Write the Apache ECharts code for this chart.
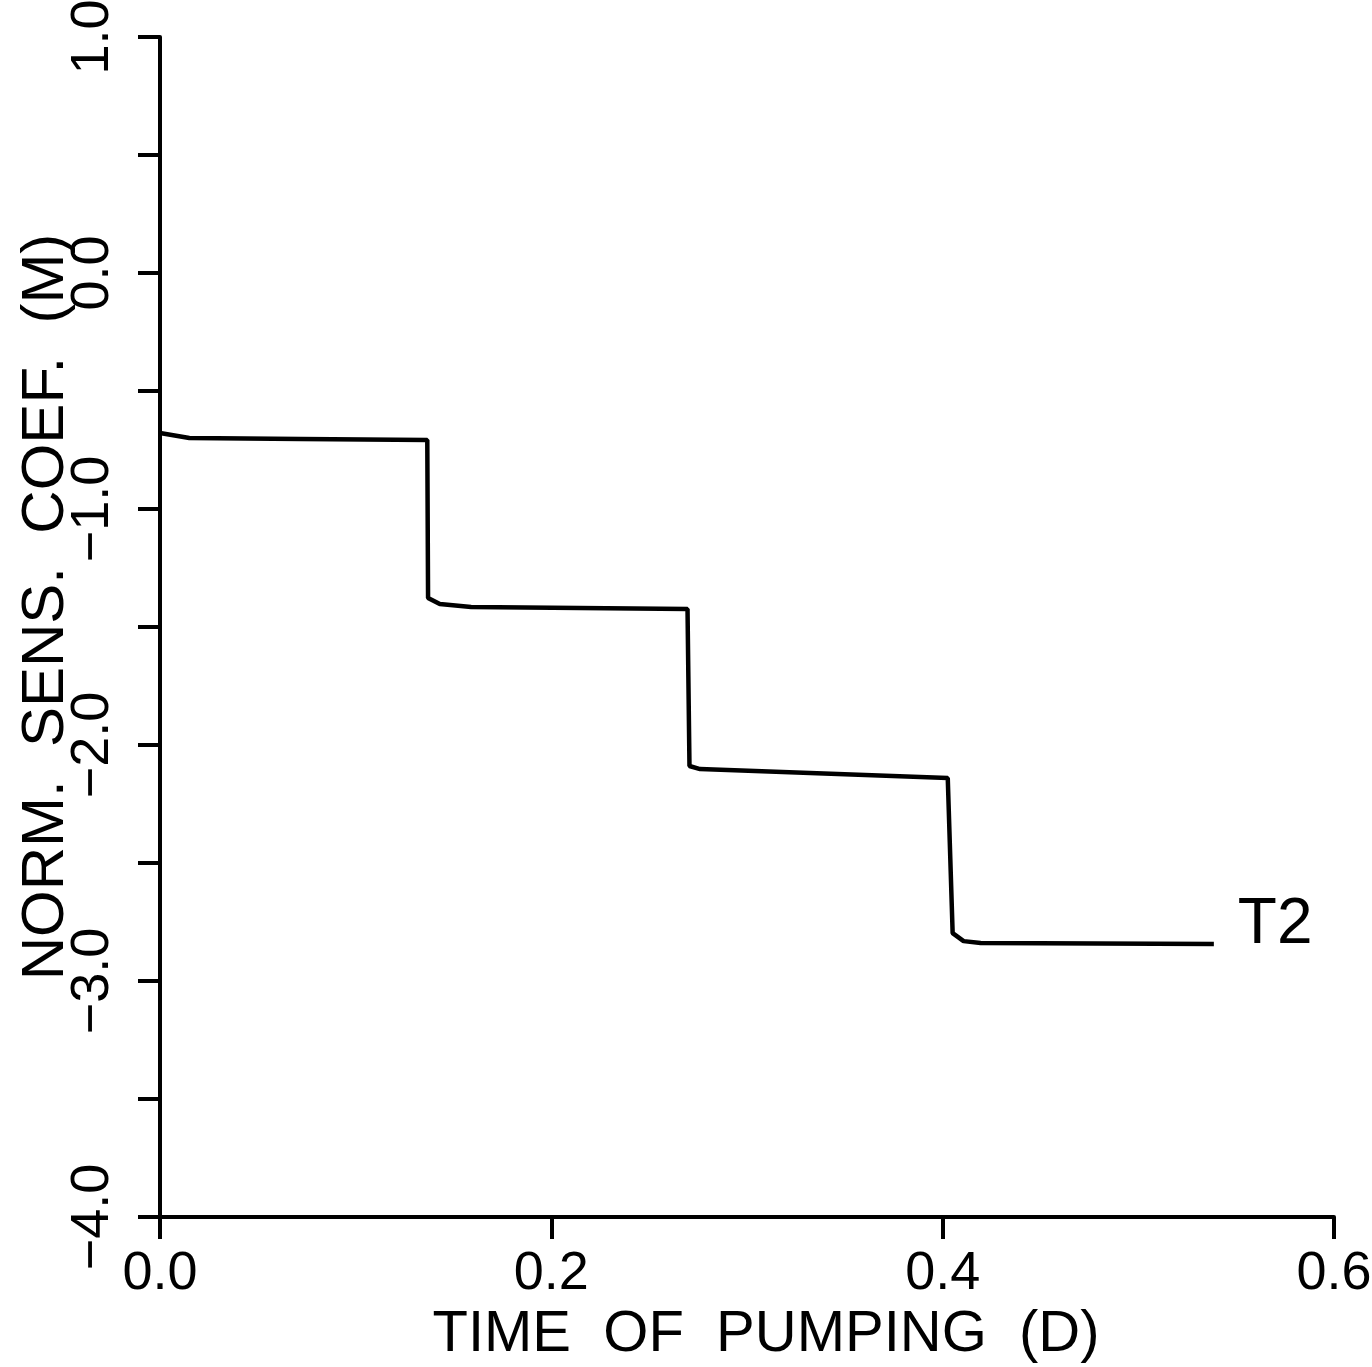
<!DOCTYPE html>
<html>
<head>
<meta charset="utf-8">
<script src="https://cdn.jsdelivr.net/npm/echarts@6/dist/echarts.min.js"></script>
<style>
  html, body { margin: 0; padding: 0; background: #fff; }
  #chart { width: 1372px; height: 1367px; }
</style>
</head>
<body>
<div id="chart"></div>
<script>
// time of pumping (days) and normalized sensitivity coefficient (m)
const timeDays = [0.0, 0.015, 0.072, 0.1366, 0.137, 0.143, 0.159, 0.2696, 0.2706, 0.276, 0.4026, 0.4051, 0.4107, 0.4194, 0.5386];
const sensCoef = [-0.678, -0.699, -0.703, -0.708, -1.377, -1.403, -1.415, -1.424, -2.089, -2.102, -2.140, -2.797, -2.831, -2.839, -2.843];
const seriesName = "T2";

const xTitle = "TIME  OF  PUMPING  (D)";
const yTitle = "NORM.  SENS.  COEF.  (M)";

let chartDom = document.getElementById("chart");
let myChart = echarts.init(chartDom);

const font = "Liberation Sans";
const ink = "#000";

const option = {
  animation: false,
  backgroundColor: "#fff",
  grid: { left: 160, right: 38, top: 37, bottom: 150, containLabel: false, outerBoundsMode: "none" },
  xAxis: {
    type: "value",
    min: 0,
    max: 0.6,
    interval: 0.2,
    name: xTitle,
    nameLocation: "middle",
    nameGap: 86,
    nameTextStyle: { fontFamily: font, fontSize: 58, color: ink, padding: [0, 0, 0, 38] },
    splitLine: { show: false },
    axisLine: { onZero: false, lineStyle: { color: ink, width: 4 } },
    axisTick: { length: 22, lineStyle: { color: ink, width: 4 } },
    axisLabel: {
      margin: 30,
      fontFamily: font,
      fontSize: 54,
      color: ink,
      formatter: (v) => v.toFixed(1),
    },
  },
  yAxis: {
    type: "value",
    min: -4,
    max: 1,
    interval: 0.5,
    name: yTitle,
    nameLocation: "middle",
    nameRotate: 90,
    nameGap: 84,
    nameMoveOverlap: false,
    nameTextStyle: { fontFamily: font, fontSize: 60, color: ink, padding: [0, 0, 0, 40] },
    splitLine: { show: false },
    axisLine: { onZero: false, lineStyle: { color: ink, width: 4 } },
    axisTick: { length: 22, lineStyle: { color: ink, width: 4 } },
    axisLabel: {
      rotate: 90,
      margin: 40,
      fontFamily: font,
      fontSize: 54,
      color: ink,
      formatter: (v) => (Math.abs(v - Math.round(v)) < 1e-9 ? v.toFixed(1).replace("-", "\u2212") : ""),
    },
  },
  series: [
    {
      name: seriesName,
      type: "line",
      data: timeDays.map((t, i) => [t, sensCoef[i]]),
      showSymbol: false,
      lineStyle: { color: ink, width: 4.5 },
      endLabel: {
        show: true,
        formatter: seriesName,
        distance: 24,
        offset: [0, -19],
        fontFamily: font,
        fontSize: 64,
        color: ink,
      },
    },
  ],
};

option && myChart.setOption(option);
</script>
</body>
</html>
